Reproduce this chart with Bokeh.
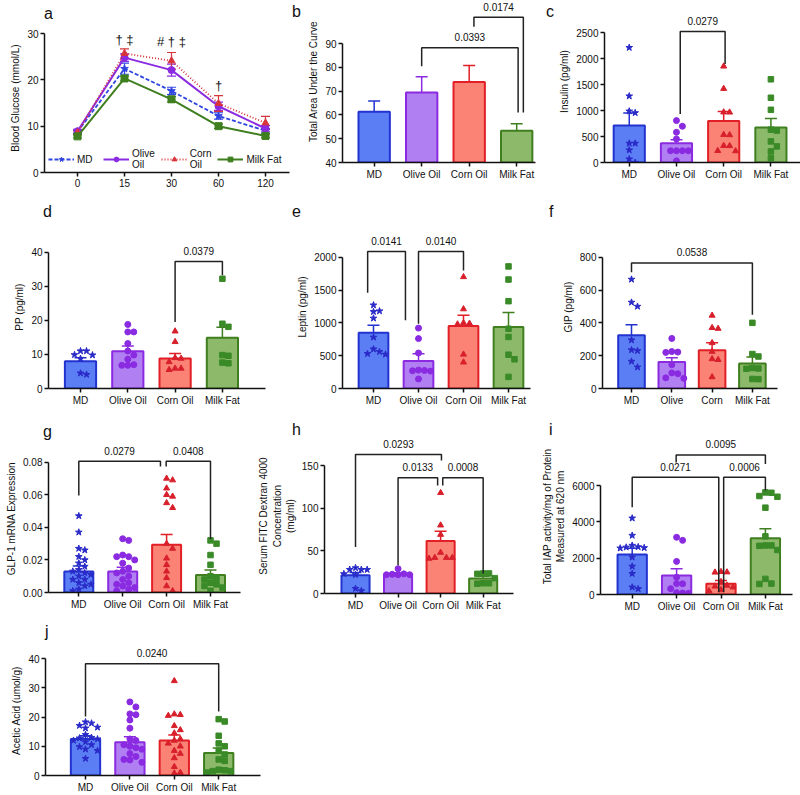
from bokeh.plotting import figure
from bokeh.layouts import row, column
from bokeh.models import (Range1d, Whisker, TeeHead, ColumnDataSource, LabelSet,
                          Legend, LegendItem, FixedTicker, Div)
from bokeh.core.properties import value
from bokeh.embed import file_html
from bokeh.resources import INLINE

FONT = "Liberation Sans"

groups = ["MD", "Olive Oil", "Corn Oil", "Milk Fat"]
groups_f = ["MD", "Olive", "Corn", "Milk Fat"]

# ---------------- panel a : blood glucose ----------------
a_times = ["0", "15", "30", "60", "120"]
a_md = [8.8, 22.4, 17.6, 12.2, 9.0]
a_md_err = [0.4, 1.2, 0.8, 0.7, 0.5]
a_olive = [8.9, 24.8, 22.1, 14.3, 9.5]
a_olive_err = [0.4, 0.8, 1.3, 0.9, 0.6]
a_corn = [8.6, 25.7, 24.1, 14.9, 10.7]
a_corn_err = [0.4, 1.0, 1.8, 1.7, 1.4]
a_milk = [7.8, 20.3, 15.8, 10.0, 7.9]
a_milk_err = [0.3, 0.5, 0.6, 0.5, 0.4]
a_legend = ["MD", "Olive\nOil", "Corn\nOil", "Milk Fat"]
a_sig_x = [1, 2, 3]
a_sig_y = [28.8, 28.2, 18.8]
a_sig_text = ["\u2020 \u2021", "# \u2020 \u2021", "\u2020"]
a_yticks = [0, 10, 20, 30]

# ---------------- panel b : AUC ----------------
b_mean = [61.3, 69.4, 73.8, 53.3]
b_sem = [4.5, 6.6, 7.0, 3.0]
b_yticks = [40, 50, 60, 70, 80, 90]
b_brackets = [(1.0, 3.03, 88.2, 80.4, 61.0, "0.0393"),
              (2.1, 3.14, 101.0, 97.0, 61.0, "0.0174")]

# ---------------- panel c : insulin ----------------
c_mean = [710, 368, 800, 671]
c_sem = [242, 71, 180, 175]
c_pts = [[2210, 1277, 987, 955, 368, 368, 239, 65, 0],
         [806, 697, 581, 452, 226, 226, 226, 226, 32],
         [1850, 1420, 968, 965, 535, 530, 323, 320, 226, 220],
         [1600, 1245, 1013, 632, 613, 406, 310, 213, 84]]
c_yticks = [0, 500, 1000, 1500, 2000, 2500]
c_brackets = [(1.08, 2.03, 2519, 935, 1894, "0.0279")]

# ---------------- panel d : PP ----------------
d_mean = [8.0, 10.9, 8.8, 14.9]
d_sem = [1.05, 1.6, 1.5, 3.1]
d_pts = [[11.0, 11.0, 9.9, 9.8, 8.8, 4.5, 4.1],
         [18.8, 16.6, 16.6, 13.2, 11.0, 9.8, 8.6, 7.0, 6.8, 6.8],
         [16.8, 13.7, 9.0, 8.8, 7.8, 5.9, 5.9, 5.5],
         [32.2, 19.0, 18.1, 9.8, 9.6, 7.6, 7.4]]
d_yticks = [0, 10, 20, 30, 40]
d_brackets = [(2.0, 3.0, 37.3, 19.5, 33.2, "0.0379")]

# ---------------- panel e : leptin ----------------
e_mean = [850, 420, 952, 937]
e_sem = [112, 109, 162, 220]
e_pts = [[1270, 1180, 1170, 1070, 780, 600, 560, 530, 520],
         [920, 760, 540, 280, 275, 270, 265, 145],
         [1700, 1210, 1000, 990, 980, 520, 400],
         [1860, 1660, 1330, 910, 785, 515, 445, 177]]
e_yticks = [0, 500, 1000, 1500, 2000]
e_brackets = [(-0.13, 0.71, 2086, 1458, 1038, "0.0141"),
              (1.0, 2.0, 2086, 987, 1797, "0.0140")]

# ---------------- panel f : GIP ----------------
f_mean = [324, 162, 233, 152]
f_sem = [65, 26, 46, 40]
f_pts = [[665, 525, 500, 295, 235, 230, 165, 130],
         [305, 225, 222, 220, 145, 95, 90, 65, 62],
         [445, 370, 365, 278, 225, 180, 175, 70],
         [400, 210, 195, 125, 122, 120, 58, 57]]
f_yticks = [0, 200, 400, 600, 800]
f_brackets = [(0.0, 3.0, 765, 709, 450, "0.0538")]

# ---------------- panel g : GLP-1 ----------------
g_mean = [0.0129, 0.0129, 0.0293, 0.0107]
g_sem = [0.0034, 0.0026, 0.0063, 0.0031]
g_pts = [[0.047, 0.037, 0.027, 0.026, 0.022, 0.020, 0.018, 0.016, 0.014, 0.013,
          0.012, 0.011, 0.010, 0.008, 0.008, 0.006, 0.005, 0.004, 0.002, 0.001],
         [0.033, 0.032, 0.023, 0.022, 0.022, 0.020, 0.018, 0.015, 0.013, 0.012,
          0.010, 0.008, 0.006, 0.005, 0.004, 0.003, 0.002, 0.001],
         [0.070, 0.069, 0.064, 0.060, 0.059, 0.055, 0.052, 0.030, 0.027, 0.021,
          0.017, 0.013, 0.009, 0.004, 0.001],
         [0.032, 0.030, 0.023, 0.017, 0.010, 0.009, 0.008, 0.006, 0.005, 0.004,
          0.003, 0.001]]
g_yticks = [0.0, 0.02, 0.04, 0.06, 0.08]
g_ylabels = ["0.00", "0.02", "0.04", "0.06", "0.08"]
g_brackets = [(0.0, 1.86, 0.0806, 0.0595, 0.0773, "0.0279"),
              (1.99, 3.0, 0.0806, 0.0773, 0.0328, "0.0408")]

# ---------------- panel h : FITC dextran ----------------
h_mean = [21.4, 22.2, 61.6, 17.5]
h_sem = [3.1, 2.0, 11.3, 2.8]
h_pts = [[30, 28, 28, 28, 23, 22, 5.8, 3.1],
         [29, 23, 22.5, 22, 22, 22],
         [118, 80, 69, 48, 42, 42, 42, 41],
         [23.5, 23.5, 23, 18, 12, 12, 11.5]]
h_yticks = [0, 50, 100, 150]
h_brackets = [(0.0, 2.02, 163.0, 54.5, 156.0, "0.0293"),
              (1.0, 1.93, 135.6, 33.0, 126.6, "0.0133"),
              (2.05, 3.0, 135.6, 126.6, 23.4, "0.0008")]

# ---------------- panel i : IAP ----------------
i_mean = [2202, 1046, 587, 3101]
i_sem = [350, 367, 184, 525]
i_pts = [[4200, 3250, 2700, 2620, 2600, 2570, 2550, 2050, 1550, 1150, 400, 310],
         [3150, 2980, 1820, 950, 600, 590, 320, 100, 80, 70],
         [1250, 1230, 1220, 700, 500, 450, 400, 250, 200],
         [5620, 5600, 5420, 5380, 4780, 3200, 2700, 2700, 2680, 2450, 860, 600, 580]]
i_yticks = [0, 2000, 4000, 6000]
i_brackets = [(0.0, 1.95, 6459, 4808, 128, "0.0271"),
              (2.06, 3.0, 6459, 128, 5725, "0.0006"),
              (0.99, 3.0, 7680, 7270, 7180, "0.0095")]

# ---------------- panel j : acetic acid ----------------
j_mean = [12.5, 11.4, 12.0, 7.7]
j_sem = [1.1, 1.9, 1.9, 1.7]
j_pts = [[18.3, 17.9, 17.1, 16.5, 16.2, 14.0, 13.0, 12.8, 12.5, 12.0, 11.5, 10.5, 9.8, 9.0, 8.5, 5.8],
         [25.2, 23.5, 21.1, 20.8, 19.0, 16.2, 12.5, 12.0, 10.5, 10.0, 9.5, 9.0, 7.5, 6.5, 5.5, 5.3, 4.5],
         [32.4, 21.0, 20.8, 20.5, 17.0, 15.6, 14.5, 12.5, 12.0, 11.0, 10.0, 8.5, 7.5, 6.0, 3.0, 1.0, 0.8],
         [19.3, 18.5, 13.6, 11.0, 10.0, 8.5, 7.2, 5.5, 5.0, 2.0, 1.8, 1.5, 1.5, 1.0]]
j_yticks = [0, 10, 20, 30, 40]
j_brackets = [(0.0, 3.0, 38.3, 20.2, 21.9, "0.0240")]

# ---------------- styles ----------------
EDGE = ["#2233d0", "#8b2ae0", "#e21f26", "#3f7f1f"]
FILL = ["#5b7ef5", "#b07ff2", "#fa8375", "#8cba6a"]
PT = ["#2a2ac8", "#8a2be2", "#d8202c", "#3a8a28"]
MARK = ["star", "circle", "triangle", "square"]
MSIZE = [7, 6, 6, 5.5]
LINEC = ["#2f45e0", "#8a2be2", "#d8343c", "#3f7f1f"]
LDASH = ["4 2", "solid", "1 2", "solid"]


def make_fig(col, rr, fl, fr, fb, c0, sp, base, tick_val, tick_px):
    """rr = (figure top, figure bottom); the frame top is the figure top."""
    W = col[1] - col[0]
    H = rr[1] - rr[0]
    ft = rr[0]
    upp = (tick_val - base) / (fb - tick_px)
    xr = ((fl - c0) / sp, (fr - c0) / sp)
    yr = (base, base + (fb - ft) * upp)
    p = figure(width=W, height=H, x_range=Range1d(*xr), y_range=Range1d(*yr),
               title=None, output_backend="svg", toolbar_location=None,
               min_border_left=fl - col[0], min_border_right=col[1] - fr,
               min_border_top=0, min_border_bottom=rr[1] - fb)
    p.outline_line_color = None
    p.xgrid.visible = False
    p.ygrid.visible = False
    p.background_fill_color = "white"
    p.border_fill_color = "white"
    return p, sp, 1.0 / upp


def style_axes(p, yticks, ylabels, ybounds, ylabel, xticks, xlabels):
    for ax in p.axis:
        ax.axis_line_width = 1.5
        ax.axis_line_color = "#111111"
        ax.major_tick_line_width = 1.5
        ax.major_tick_line_color = "#111111"
        ax.major_tick_out = 4
        ax.major_tick_in = 0
        ax.minor_tick_line_color = None
        ax.major_label_text_font = FONT
        ax.major_label_text_font_size = "10px"
        ax.major_label_text_color = "#111111"
        ax.axis_label_text_font = FONT
        ax.axis_label_text_font_size = "10px"
        ax.axis_label_text_font_style = "normal"
        ax.axis_label_text_color = "#111111"
        ax.major_label_standoff = 2
        ax.axis_label_standoff = 3
    ya = p.yaxis[0]
    ya.ticker = FixedTicker(ticks=yticks)
    ya.major_label_overrides = {t: l for t, l in zip(yticks, ylabels)}
    ya.bounds = ybounds
    ya.axis_label = ylabel
    xa = p.xaxis[0]
    xa.ticker = FixedTicker(ticks=xticks)
    xa.major_label_overrides = {t: l for t, l in zip(xticks, xlabels)}


def swarm(vals, ppx_x, ppx_y, diam=6.0):
    order = sorted(range(len(vals)), key=lambda k: -vals[k])
    placed = []
    offs = [0.0] * len(vals)
    cands = [0, diam, -diam, 2 * diam, -2 * diam]
    for k in order:
        yv = vals[k] * ppx_y
        best, bestd = 0, -1
        for c in cands:
            dmin = min([((c - px) ** 2 + (yv - py) ** 2) ** 0.5 for px, py in placed] or [1e9])
            if dmin >= diam:
                best = c
                break
            if dmin > bestd:
                bestd, best = dmin, c
        placed.append((best, yv))
        offs[k] = best / ppx_x
    return offs


def letter_div(txt, width, height, pad_left, baseline):
    # line-height 12px, 16px font: baseline sits ~12.5px below the top of the line box
    pad_top = max(0, int(round(baseline - 12.5)))
    html = ('<div style="font-family:\'%s\';font-size:16px;color:#111111;line-height:12px;'
            'padding-left:%dpx;padding-top:%dpx;overflow:visible;">%s</div>'
            % (FONT, pad_left, pad_top, txt))
    return Div(text=html, width=width, height=height, margin=0)


def add_brackets(p, ppx_y, br):
    xs, ys, tx, ty, tt = [], [], [], [], []
    for x1, x2, top, e1, e2, lab in br:
        xs.append([x1, x1, x2, x2])
        ys.append([e1, top, top, e2])
        tx.append((x1 + x2) / 2)
        ty.append(top + 10.5 / ppx_y)
        tt.append(lab)
    p.multi_line(xs, ys, line_color="#222222", line_width=1.5)
    src = ColumnDataSource(dict(x=tx, y=ty, t=tt))
    p.add_layout(LabelSet(x="x", y="y", text="t", source=src, text_align="center",
                          text_baseline="middle", text_font=value(FONT),
                          text_font_size=value("10px"), text_color="#111111"))


def bar_panel(p, ppx_x, ppx_y, base, means, sems, pts, br, yticks, ylabels, ylabel, xlabels):
    for g in range(4):
        p.vbar(x=[g], bottom=base, top=[means[g]], width=0.66, fill_color=FILL[g],
               line_color=EDGE[g], line_width=2)
    for g in range(4):
        if pts is not None:
            offs = swarm(pts[g], ppx_x, ppx_y)
            p.scatter(x=[g + o for o in offs], y=pts[g], marker=MARK[g], size=MSIZE[g],
                      fill_color=PT[g], line_color=PT[g])
    for g in range(4):
        src = ColumnDataSource(dict(x=[g], up=[means[g] + sems[g]], lo=[means[g] - sems[g]]))
        p.add_layout(Whisker(source=src, base="x", upper="up", lower="lo",
                             line_color=EDGE[g], line_width=1.5,
                             upper_head=TeeHead(size=12, line_color=EDGE[g], line_width=1.5),
                             lower_head=TeeHead(size=12, line_color=EDGE[g], line_width=1.5)))
    add_brackets(p, ppx_y, br)
    style_axes(p, yticks, ylabels, (yticks[0], yticks[-1]), ylabel, [0, 1, 2, 3], xlabels)


# ---------- a ----------
pa, sxa, sya = make_fig((0, 290), (23, 205), 44, 289, 172, 77, 47, 0, 30, 33)
a_series = [(a_md, a_md_err), (a_olive, a_olive_err), (a_corn, a_corn_err), (a_milk, a_milk_err)]
xs_a = list(range(len(a_times)))
items = []
for g, (vals, errs) in enumerate(a_series):
    lr = pa.line(xs_a, vals, line_color=LINEC[g], line_width=2 if LDASH[g] == "solid" else 1.8,
                 line_dash=LDASH[g])
    sr = pa.scatter(xs_a, vals, marker=MARK[g], size=7 if g != 0 else 8,
                    fill_color=LINEC[g], line_color=LINEC[g])
    src = ColumnDataSource(dict(x=xs_a, up=[v + e for v, e in zip(vals, errs)],
                                lo=[v - e for v, e in zip(vals, errs)]))
    pa.add_layout(Whisker(source=src, base="x", upper="up", lower="lo", line_color=LINEC[g],
                          line_width=1.2,
                          upper_head=TeeHead(size=9, line_color=LINEC[g], line_width=1.2),
                          lower_head=TeeHead(size=9, line_color=LINEC[g], line_width=1.2)))
    items.append(LegendItem(label=a_legend[g], renderers=[lr, sr]))
leg = Legend(items=items, orientation="horizontal", location=(4, 2), glyph_width=26,
             glyph_height=12, label_text_font=FONT, label_text_font_size="10px",
             label_standoff=3, spacing=6, padding=0, margin=0, label_height=12,
             background_fill_alpha=0, border_line_alpha=0, label_text_color="#111111")
pa.add_layout(leg)
pa.add_layout(LabelSet(x="x", y="y", text="t",
                       source=ColumnDataSource(dict(x=a_sig_x, y=a_sig_y, t=a_sig_text)),
                       text_align="center", text_baseline="middle", text_font=value(FONT),
                       text_font_size=value("13px"), text_color="#111111"))
style_axes(pa, a_yticks, [str(t) for t in a_yticks], (0, 30), "Blood Glucose (mmol/L)",
           xs_a, a_times)
col_a = column(letter_div("a", 290, 23, 44, 20), pa)

# ---------- b ----------
lb = letter_div("b", 15, 205, 2, 18)
pb, sxb, syb = make_fig((305, 542), (0, 205), 340, 535, 162, 372, 48, 40, 90, 43)
bar_panel(pb, sxb, syb, 40, b_mean, b_sem, None, b_brackets, b_yticks,
          [str(t) for t in b_yticks], "Total Area Under the Curve", groups)

# ---------- c ----------
lc = letter_div("c", 14, 205, 4, 18)
pc, sxc, syc = make_fig((556, 800), (0, 205), 602, 800, 162, 627, 47.7, 0, 2500, 32)
bar_panel(pc, sxc, syc, 0, c_mean, c_sem, c_pts, c_brackets, c_yticks,
          [str(t) for t in c_yticks], "Insulin (pg/ml)", groups)

# ---------- d ----------
pd_, sxd, syd = make_fig((0, 270), (225, 410), 48, 265, 388, 80, 47.3, 0, 40, 251.7)
bar_panel(pd_, sxd, syd, 0, d_mean, d_sem, d_pts, d_brackets, d_yticks,
          [str(t) for t in d_yticks], "PP (pg/ml)", groups)
col_d = column(letter_div("d", 270, 20, 43, 12), pd_)

# ---------- e ----------
pe, sxe, sye = make_fig((270, 535), (225, 410), 342, 530, 388, 373, 45, 0, 2000, 256.7)
bar_panel(pe, sxe, sye, 0, e_mean, e_sem, e_pts, e_brackets, e_yticks,
          [str(t) for t in e_yticks], "Leptin (pg/ml)", groups)
col_e = column(letter_div("e", 265, 20, 22, 12), pe)

# ---------- f ----------
pf, sxf, syf = make_fig((535, 800), (225, 410), 602, 777, 388, 631, 40.3, 0, 800, 256.7)
bar_panel(pf, sxf, syf, 0, f_mean, f_sem, f_pts, f_brackets, f_yticks,
          [str(t) for t in f_yticks], "GIP (pg/ml)", groups_f)
col_f = column(letter_div("f", 265, 20, 14, 12), pf)

# ---------- g ----------
pg, sxg, syg = make_fig((0, 255), (444, 620), 48, 240, 592, 78.3, 43.9, 0, 0.08, 461.7)
bar_panel(pg, sxg, syg, 0, g_mean, g_sem, g_pts, g_brackets, g_yticks, g_ylabels,
          "GLP-1 mRNA Expression", groups)
col_g = column(letter_div("g", 255, 34, 43, 29), pg)

# ---------- h ----------
ph, sxh, syh = make_fig((255, 535), (438, 620), 318, 513, 593, 350, 43.9, 0, 150, 465)
bar_panel(ph, sxh, syh, 0, h_mean, h_sem, h_pts, h_brackets, h_yticks,
          [str(t) for t in h_yticks], "Serum FITC Dextran 4000\nConcentration\n(mg/ml)", groups)
col_h = column(letter_div("h", 280, 28, 37, 27), ph)

# ---------- i ----------
pi, sxi, syi = make_fig((535, 800), (438, 620), 600, 792, 594, 631.7, 44.4, 0, 6000, 485)
bar_panel(pi, sxi, syi, 0, i_mean, i_sem, i_pts, i_brackets, i_yticks,
          [str(t) for t in i_yticks], "Total IAP activity/mg of Protein\nMeasured at 620 nm", groups)
col_i = column(letter_div("i", 265, 28, 14, 27), pi)

# ---------- j ----------
pj, sxj, syj = make_fig((0, 280), (645, 795), 45, 260, 776, 85, 44.4, 0, 40, 658.3)
bar_panel(pj, sxj, syj, 0, j_mean, j_sem, j_pts, j_brackets, j_yticks,
          [str(t) for t in j_yticks], "Acetic Acid (umol/g)", groups)
col_j = column(letter_div("j", 280, 25, 45, 19), pj)

layout = column(row(col_a, lb, pb, lc, pc), row(col_d, col_e, col_f),
                row(col_g, col_h, col_i), row(col_j))

with open("out.html", "w") as fh:
    fh.write(file_html(layout, INLINE))
